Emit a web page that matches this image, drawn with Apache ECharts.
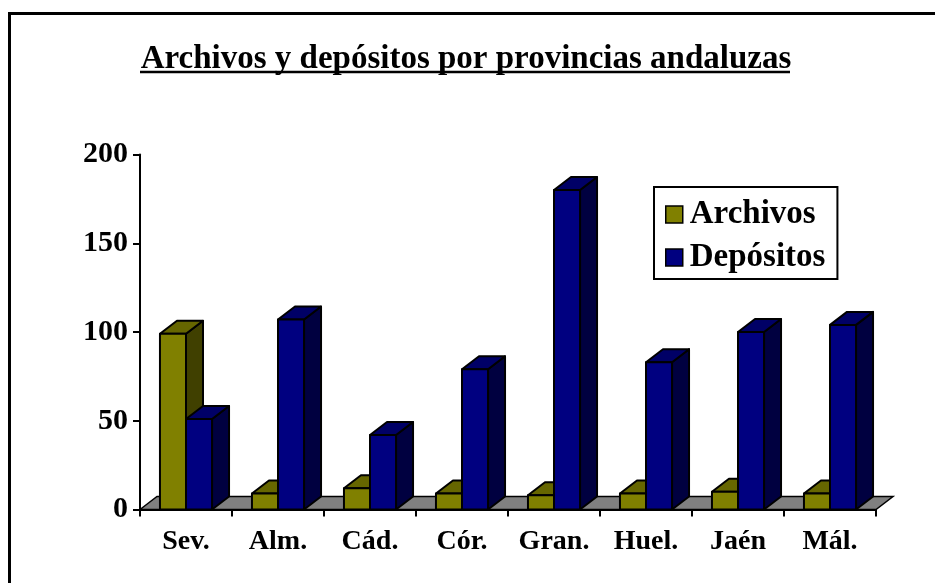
<!DOCTYPE html>
<html>
<head>
<meta charset="utf-8">
<script src="https://cdn.jsdelivr.net/npm/echarts@6/dist/echarts.min.js"></script>
<style>
html,body{margin:0;padding:0;background:#fff;}
#main{width:935px;height:583px;}
</style>
</head>
<body>
<div id="main"></div>
<script>
// datos
var provincias = ['Sev.', 'Alm.', 'Cád.', 'Cór.', 'Gran.', 'Huel.', 'Jaén', 'Mál.'];
var archivos = [99, 9, 12, 9, 8, 9, 10, 9];
var depositos = [51, 107, 42, 79, 180, 83, 100, 104];
var yTicks = [0, 50, 100, 150, 200];

var FONT = 'Liberation Serif';
var DX = 17, DY = -13; // profundidad 3D
var BAR_FR = 0.283;     // ancho de barra respecto a la categoria

var colores = {
	archivos: {front: '#808000', top: '#666600', side: '#404000'},
	depositos: {front: '#000080', top: '#000066', side: '#000040'}
};

function bar3d(col, offset){
	return function(params, api){
		var idx = api.value(0);
		var top = api.coord([idx, api.value(1)]);
		var base = api.coord([idx, 0]);
		var bw = api.size([1, 0])[0] * BAR_FR;
		var x0 = top[0] + offset * bw;
		var x1 = x0 + bw;
		var y0 = top[1], y1 = base[1];
		var st = {stroke: '#000', lineWidth: 2, lineJoin: 'round'};
		return {
			type: 'group',
			children: [
				{type: 'polygon', shape: {points: [[x1, y0], [x1 + DX, y0 + DY], [x1 + DX, y1 + DY], [x1, y1]]},
					style: Object.assign({fill: col.side}, st)},
				{type: 'polygon', shape: {points: [[x0, y0], [x0 + DX, y0 + DY], [x1 + DX, y0 + DY], [x1, y0]]},
					style: Object.assign({fill: col.top}, st)},
				{type: 'rect', shape: {x: x0, y: y0, width: bw, height: y1 - y0},
					style: Object.assign({fill: col.front}, st)}
			]
		};
	};
}

var myChart = echarts.init(document.getElementById('main'));
var option = {
	animation: false,
	backgroundColor: '#fff',
	title: {
		text: 'Archivos y depósitos por provincias andaluzas',
		left: 461, top: 38, textAlign: 'center',
		textStyle: {fontFamily: FONT, fontWeight: 'bold', fontSize: 33, color: '#000'}
	},
	graphic: [
		{type: 'rect', shape: {x: 9.5, y: 13.5, width: 940, height: 590},
			style: {fill: null, stroke: '#000', lineWidth: 3}, silent: true},
		// subrayado del titulo
		{type: 'line', shape: {x1: 140, y1: 72, x2: 790, y2: 72},
			style: {stroke: '#000', lineWidth: 2.5}, silent: true}
	],
	legend: {
		orient: 'vertical',
		left: 654, top: 187,
		padding: [11, 12, 5, 11],
		itemGap: 10,
		itemWidth: 17, itemHeight: 17,
		borderColor: '#000', borderWidth: 2,
		icon: 'rect',
		data: [
			{name: 'Archivos', itemStyle: {color: colores.archivos.front, borderColor: '#000', borderWidth: 1.5}},
			{name: 'Depósitos', itemStyle: {color: colores.depositos.front, borderColor: '#000', borderWidth: 1.5}}
		],
		textStyle: {fontFamily: FONT, fontWeight: 'bold', fontSize: 33, color: '#000', padding: [0, 0, 0, 2]}
	},
	grid: {left: 140, right: 59, top: 154.5, bottom: 73.5},
	xAxis: {
		type: 'category',
		data: provincias,
		axisLine: {lineStyle: {color: '#000', width: 2}},
		axisTick: {show: true, interval: 0, length: 7, lineStyle: {color: '#000', width: 2}},
		axisLabel: {interval: 0, fontFamily: FONT, fontWeight: 'bold', fontSize: 28, color: '#000', margin: 18}
	},
	yAxis: {
		type: 'value',
		min: yTicks[0], max: yTicks[yTicks.length - 1], interval: yTicks[1] - yTicks[0],
		splitLine: {show: false},
		axisLine: {show: true, lineStyle: {color: '#000', width: 2}},
		axisTick: {show: true, length: 7, lineStyle: {color: '#000', width: 2}},
		axisLabel: {fontFamily: FONT, fontWeight: 'bold', fontSize: 30, color: '#000', margin: 12}
	},
	series: [
		{
			// suelo gris
			type: 'custom', name: 'suelo', z: 1, silent: true,
			data: [[0]],
			renderItem: function(params, api){
				var cs = params.coordSys;
				var yb = api.coord([0, 0])[1];
				return {
					type: 'polygon',
					shape: {points: [[cs.x, yb], [cs.x + DX, yb + DY], [cs.x + cs.width + DX, yb + DY], [cs.x + cs.width, yb]]},
					style: {fill: '#808080', stroke: '#000', lineWidth: 1.5}
				};
			}
		},
		{
			type: 'custom', name: 'Archivos', z: 2,
			itemStyle: {color: colores.archivos.front},
			data: archivos.map(function(v, i){ return [i, v]; }),
			renderItem: bar3d(colores.archivos, -1)
		},
		{
			type: 'custom', name: 'Depósitos', z: 3,
			itemStyle: {color: colores.depositos.front},
			data: depositos.map(function(v, i){ return [i, v]; }),
			renderItem: bar3d(colores.depositos, 0)
		}
	]
};
myChart.setOption(option);
</script>
</body>
</html>
